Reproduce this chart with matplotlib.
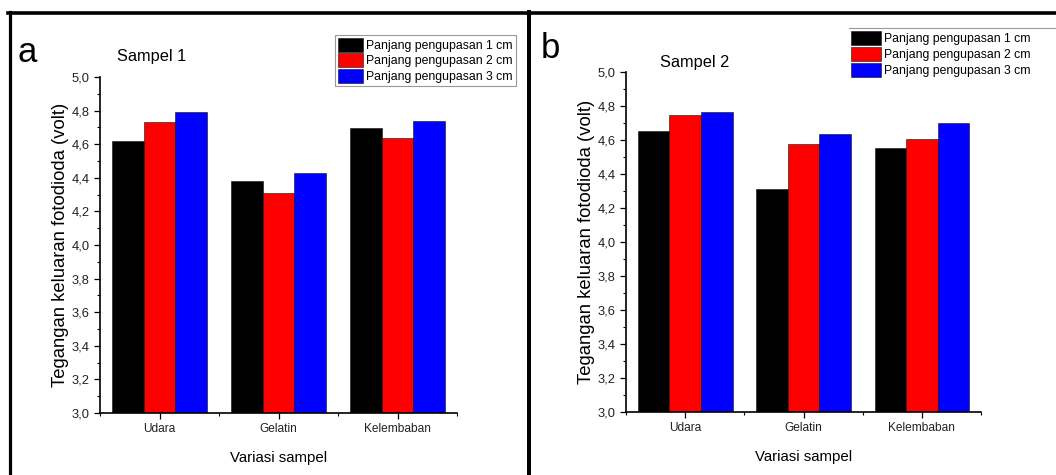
import matplotlib
matplotlib.use("Agg")
import matplotlib.pyplot as plt
from matplotlib.lines import Line2D
from matplotlib.ticker import MultipleLocator, FuncFormatter
import numpy as np

plt.rcParams['font.family'] = ['Liberation Sans', 'DejaVu Sans']

categories = ["Udara", "Gelatin", "Kelembaban"]
series_labels = ["Panjang pengupasan 1 cm", "Panjang pengupasan 2 cm", "Panjang pengupasan 3 cm"]
colors = ["#000000", "#FF0000", "#0000FF"]

sampel1_1cm = [4.62, 4.38, 4.695]
sampel1_2cm = [4.73, 4.31, 4.635]
sampel1_3cm = [4.79, 4.43, 4.74]

sampel2_1cm = [4.655, 4.31, 4.555]
sampel2_2cm = [4.745, 4.575, 4.605]
sampel2_3cm = [4.765, 4.635, 4.70]

W, H = 1056, 475
fig = plt.figure(figsize=(W / 100, H / 100), dpi=100)


def fx(px):
    return px / W


def fy(py):
    return 1 - py / H


def make_axes(x0, x1, ytop, ybot):
    return fig.add_axes([fx(x0), fy(ybot), fx(x1) - fx(x0), fy(ytop) - fy(ybot)])


def style_axes(ax, series):
    x = np.arange(len(categories))
    bw = 0.8 / 3
    handles = []
    for i, vals in enumerate(series):
        h = ax.bar(x + (i - 1) * bw, vals, width=bw, color=colors[i],
                   edgecolor="#111111", linewidth=0.4, label=series_labels[i])
        handles.append(h)
    ax.set_xlim(-0.5, 2.5)
    ax.set_ylim(3.0, 5.0)
    ax.set_xticks(x)
    ax.set_xticklabels(categories, fontsize=8.6, color="#222222")
    ax.xaxis.set_minor_locator(MultipleLocator(0.5))
    ax.yaxis.set_major_locator(MultipleLocator(0.2))
    ax.yaxis.set_minor_locator(MultipleLocator(0.1))
    ax.yaxis.set_major_formatter(FuncFormatter(lambda v, p: f"{v:.1f}".replace(".", ",")))
    ax.tick_params(axis="y", labelsize=9.3, labelcolor="#222222")
    ax.tick_params(which="major", direction="out", length=4, width=0.9)
    ax.tick_params(which="minor", direction="out", length=2.5, width=0.8)
    ax.spines["top"].set_visible(False)
    ax.spines["right"].set_visible(False)
    ax.spines["left"].set_linewidth(1.2)
    ax.spines["bottom"].set_linewidth(1.2)
    ax.set_xlabel("Variasi sampel", fontsize=10.8, labelpad=11)
    ax.set_ylabel("Tegangan keluaran fotodioda (volt)", fontsize=13.3, labelpad=2)
    return handles


ax1 = make_axes(100, 457, 77, 413)
h1 = style_axes(ax1, [sampel1_1cm, sampel1_2cm, sampel1_3cm])
ax2 = make_axes(626, 981, 72, 412)
h2 = style_axes(ax2, [sampel2_1cm, sampel2_2cm, sampel2_3cm])

# Panel titles
fig.text(fx(117), fy(56), "Sampel 1", fontsize=11.8, va="center", ha="left")
fig.text(fx(660), fy(63), "Sampel 2", fontsize=11.8, va="center", ha="left")
fig.text(fx(27), fy(52), "a", fontsize=25, va="center", ha="center")
fig.text(fx(550), fy(49), "b", fontsize=25, va="center", ha="center")

# Legends
leg1 = fig.legend(handles=h1, labels=series_labels, loc="upper left",
                  bbox_to_anchor=(fx(335), fy(35)), fontsize=8.8,
                  handlelength=2.05, handleheight=1.35, labelspacing=0.12,
                  handletextpad=0.25, borderpad=0.25, borderaxespad=0,
                  fancybox=False, edgecolor="#999999", framealpha=1)
leg1.get_frame().set_linewidth(0.8)
leg2 = fig.legend(handles=h2, labels=series_labels, loc="upper left",
                  bbox_to_anchor=(fx(849), fy(29)), fontsize=8.8,
                  handlelength=2.45, handleheight=1.45, labelspacing=0.12,
                  handletextpad=0.25, borderpad=0.15, borderaxespad=0,
                  frameon=False)
fig.add_artist(Line2D([fx(849), fx(1056)], [fy(28), fy(28)], color="#999999", lw=0.8))

# Outer panel frames
fig.add_artist(Line2D([fx(9.5), fx(9.5)], [fy(12), 0], color="black", lw=2.3))
fig.add_artist(Line2D([fx(8), 1], [fy(13), fy(13)], color="black", lw=2.6))
fig.add_artist(Line2D([fx(529), fx(529)], [fy(12), 0], color="black", lw=2.9))

fig.savefig("out.png", dpi=100)
